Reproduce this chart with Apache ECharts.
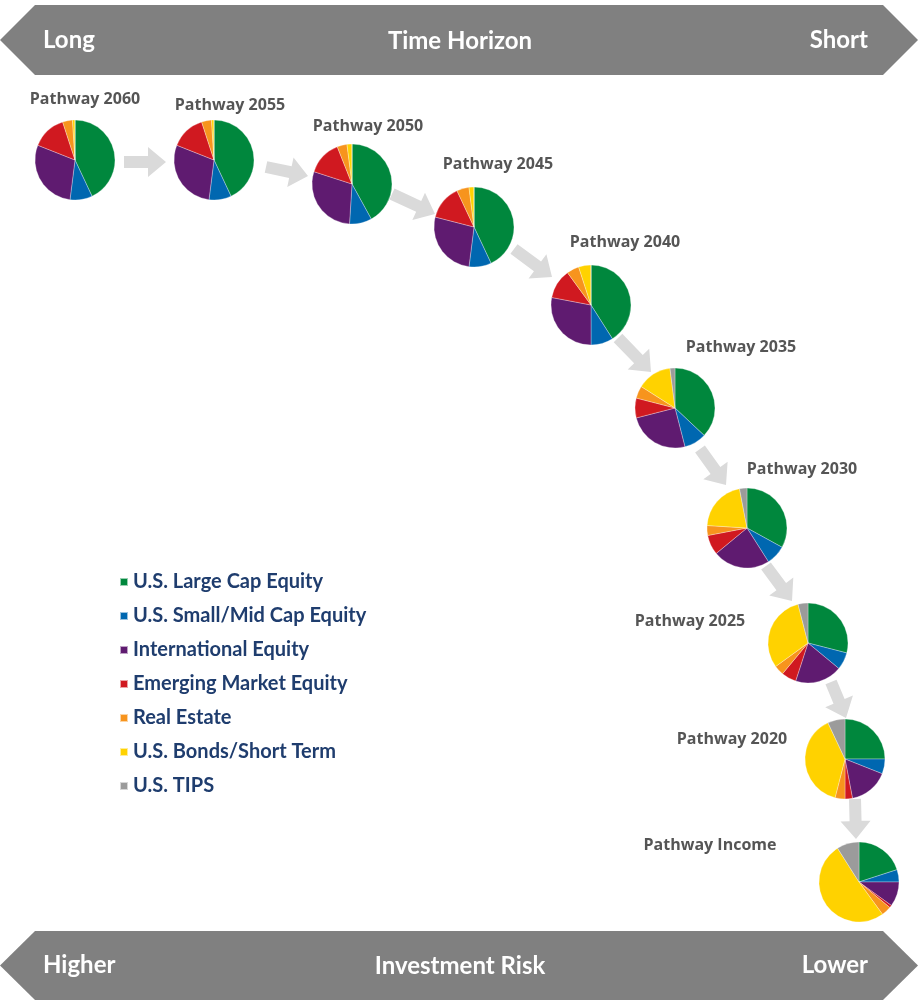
<!DOCTYPE html>
<html>
<head>
<meta charset="utf-8">
<title>Pathway</title>
<script src="https://cdn.jsdelivr.net/npm/echarts@6/dist/echarts.min.js"></script>
<style>
    html, body { margin: 0; padding: 0; background: #fff; }
    #main { width: 918px; height: 1001px; }
</style>
</head>
<body>
<div id="main"></div>
<script>
// asset classes, clockwise from 12 o'clock
var assetNames = ['U.S. Large Cap Equity', 'U.S. Small/Mid Cap Equity', 'International Equity',
    'Emerging Market Equity', 'Real Estate', 'U.S. Bonds/Short Term', 'U.S. TIPS'];
var assetColors = ['#00873d', '#0067b0', '#5f1b70', '#d01920', '#f7941d', '#ffd200', '#9b9b9b'];

var pathways = ['Pathway 2060', 'Pathway 2055', 'Pathway 2050', 'Pathway 2045', 'Pathway 2040',
    'Pathway 2035', 'Pathway 2030', 'Pathway 2025', 'Pathway 2020', 'Pathway Income'];

// allocation % per pathway
var alloc2060 = [43, 9, 29, 14, 4, 1, 0];
var alloc2055 = [43, 9, 29, 14, 4, 1, 0];
var alloc2050 = [42, 9, 29, 14, 4, 2, 0];
var alloc2045 = [43, 9, 27, 14, 5, 2, 0];
var alloc2040 = [41, 9, 28, 12, 5, 5, 0];
var alloc2035 = [37, 9, 25, 8, 5, 14, 2];
var alloc2030 = [33, 8, 23, 8, 4, 21, 3];
var alloc2025 = [29, 7, 19, 6, 4, 31, 4];
var alloc2020 = [25, 6, 16, 3, 4, 39, 7];
var allocIncome = [20, 5, 10, 1, 4, 51, 9];
var allocs = [alloc2060, alloc2055, alloc2050, alloc2045, alloc2040, alloc2035, alloc2030, alloc2025, alloc2020, allocIncome];

// layout: pie centers and label positions
var pieCenters = [[75, 160], [214, 160], [352, 184], [474, 227], [591, 305],
    [675, 408], [747, 528], [808, 643], [845, 759], [859, 882]];
var labelPos = [[85, 99], [230, 105], [368, 126], [498, 164], [625, 242],
    [741, 347], [802, 469], [690, 621], [732, 739], [710, 845]];
var arrowsPos = [
    [[124, 162], [166, 162]],
    [[266, 167], [308, 176]],
    [[392, 194], [435, 214]],
    [[514, 249], [552, 277]],
    [[618, 338], [651, 372]],
    [[700, 449], [726, 485]],
    [[766, 566], [792, 601]],
    [[831, 682], [846, 718]],
    [[855, 799], [856, 839]]
];

var chart = echarts.init(document.getElementById('main'));

// block arrow polygon
function arrowPoints(s, e) {
    var dx = e[0] - s[0], dy = e[1] - s[1];
    var len = Math.sqrt(dx * dx + dy * dy);
    var ux = dx / len, uy = dy / len, nx = -uy, ny = ux;
    var hl = 18, sw = 6, hw = 15;
    var bx = s[0] + ux * (len - hl), by = s[1] + uy * (len - hl);
    return [
        [s[0] + nx * sw, s[1] + ny * sw],
        [bx + nx * sw, by + ny * sw],
        [bx + nx * hw, by + ny * hw],
        [e[0], e[1]],
        [bx - nx * hw, by - ny * hw],
        [bx - nx * sw, by - ny * sw],
        [s[0] - nx * sw, s[1] - ny * sw]
    ];
}

function banner(y1, y2, left, mid, right) {
    var ym = (y1 + y2) / 2;
    var font = { fill: '#fff', fontSize: 24, fontWeight: 'bold', fontFamily: 'Lato', textVerticalAlign: 'middle' };
    return [
        { type: 'polygon', shape: { points: [[0, ym], [35, y1], [883, y1], [918, ym], [883, y2], [35, y2]] },
            style: { fill: '#808080' }, z: 1 },
        { type: 'text', x: 43, y: ym, style: Object.assign({ text: left, textAlign: 'left' }, font), z: 2 },
        { type: 'text', x: 460, y: ym + 1, style: Object.assign({ text: mid, textAlign: 'center' }, font), z: 2 },
        { type: 'text', x: 868, y: ym, style: Object.assign({ text: right, textAlign: 'right' }, font), z: 2 }
    ];
}

var graphics = [];
graphics = graphics.concat(banner(5, 75, 'Long', 'Time Horizon', 'Short'));
graphics = graphics.concat(banner(931, 1000, 'Higher', 'Investment Risk', 'Lower'));

for (var i = 0; i < arrowsPos.length; i++) {
    graphics.push({
        type: 'polygon',
        shape: { points: arrowPoints(arrowsPos[i][0], arrowsPos[i][1]) },
        style: { fill: '#dadada' },
        z: 0
    });
}
for (var i = 0; i < pathways.length; i++) {
    graphics.push({
        type: 'text', x: labelPos[i][0], y: labelPos[i][1],
        style: { text: pathways[i], fill: '#555', fontSize: 16, fontWeight: 'bold', fontFamily: 'Open Sans',
            textAlign: 'center', textVerticalAlign: 'middle' },
        z: 3
    });
}

var series = [];
for (var i = 0; i < pathways.length; i++) {
    var d = [];
    for (var k = 0; k < assetNames.length; k++) {
        d.push({ name: assetNames[k], value: allocs[i][k] });
    }
    series.push({
        type: 'pie',
        name: pathways[i],
        center: pieCenters[i],
        radius: 40,
        startAngle: 90,
        clockwise: true,
        label: { show: false },
        labelLine: { show: false },
        emphasis: { disabled: true },
        itemStyle: { borderColor: 'rgba(255,255,255,0.6)', borderWidth: 0.5 },
        data: d
    });
}

var option = {
    animation: false,
    color: assetColors,
    legend: {
        data: assetNames,
        orient: 'vertical',
        left: 119,
        top: 572,
        padding: 0,
        icon: 'rect',
        itemWidth: 8,
        itemHeight: 8,
        itemGap: 14,
        selectedMode: false,
        textStyle: { color: '#1f3d6e', fontSize: 20, fontWeight: 'bold', fontFamily: 'Lato', lineHeight: 20 }
    },
    graphic: graphics,
    series: series
};
chart.setOption(option);
</script>
</body>
</html>
